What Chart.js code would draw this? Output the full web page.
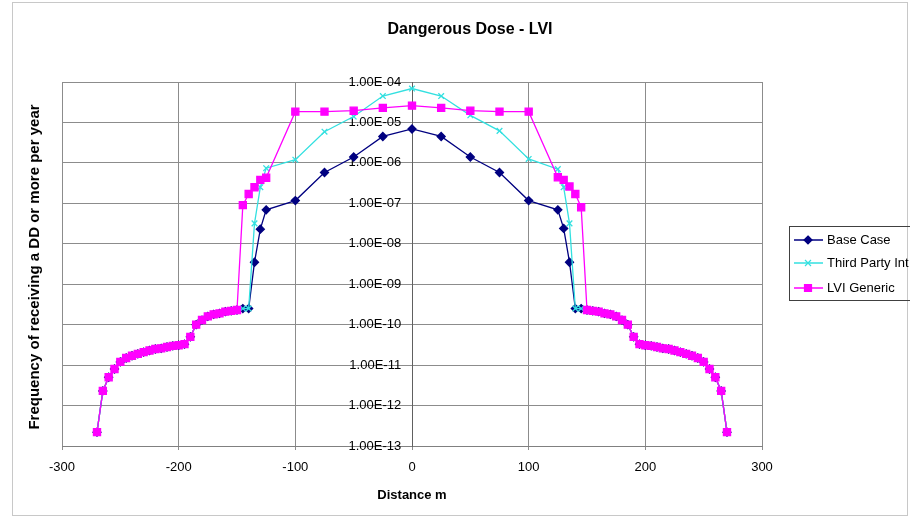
<!DOCTYPE html>
<html>
  <head>
    <title>Dangerous Dose - LVI</title>
    <meta charset="utf-8" />
    <script src="https://cdn.jsdelivr.net/npm/chart.js"></script>
    <style>
      body { margin: 0; background: #fff; }
      canvas { display: block; }
    </style>
  </head>
  <body>
    <canvas id="doseChart" width="910" height="520"></canvas>
    <script>
      // distance from the source, metres (shared by all three series)
      const distance = [
        -270, -265, -260, -255, -250, -245, -240, -235, -230, -225, -220, -215, -210,
        -205, -200, -195, -190, -185, -180, -175, -170, -165, -160, -155, -150,
        -145, -140, -135, -130, -125, -100, -75, -50, -25,
        0,
        25, 50, 75, 100, 125, 130, 135, 140, 145,
        150, 155, 160, 165, 170, 175, 180, 185, 190, 195, 200, 205, 210,
        215, 220, 225, 230, 235, 240, 245, 250, 255, 260, 265, 270
      ];

      const baseCase = [
        2.2e-13, 2.3e-12, 5e-12, 8e-12, 1.2e-11, 1.5e-11, 1.7e-11, 1.9e-11, 2.1e-11, 2.3e-11, 2.5e-11, 2.6e-11, 2.8e-11,
        3.0e-11, 3.1e-11, 3.3e-11, 5e-11, 1.0e-10, 1.3e-10, 1.6e-10, 1.8e-10, 1.9e-10, 2.1e-10, 2.2e-10, 2.3e-10,
        2.5e-10, 2.5e-10, 3.5e-9, 2.3e-8, 6.9e-8, 1.17e-7, 5.8e-7, 1.4e-6, 4.5e-6,
        6.9e-6,
        4.5e-6, 1.4e-6, 5.8e-7, 1.17e-7, 6.9e-8, 2.4e-8, 3.5e-9, 2.5e-10, 2.5e-10,
        2.3e-10, 2.2e-10, 2.1e-10, 1.9e-10, 1.8e-10, 1.6e-10, 1.3e-10, 1.0e-10, 5e-11, 3.3e-11, 3.1e-11, 3.0e-11, 2.8e-11,
        2.6e-11, 2.5e-11, 2.3e-11, 2.1e-11, 1.9e-11, 1.7e-11, 1.5e-11, 1.2e-11, 8e-12, 5e-12, 2.3e-12, 2.2e-13
      ];

      const thirdParty = [
        2.2e-13, 2.3e-12, 5e-12, 8e-12, 1.2e-11, 1.5e-11, 1.7e-11, 1.9e-11, 2.1e-11, 2.3e-11, 2.5e-11, 2.6e-11, 2.8e-11,
        3.0e-11, 3.1e-11, 3.3e-11, 5e-11, 1.0e-10, 1.3e-10, 1.6e-10, 1.8e-10, 1.9e-10, 2.1e-10, 2.2e-10, 2.3e-10,
        2.5e-10, 2.5e-10, 3.2e-8, 2.5e-7, 7.4e-7, 1.2e-6, 5.9e-6, 1.4e-5, 4.5e-5,
        6.9e-5,
        4.5e-5, 1.5e-5, 6.2e-6, 1.25e-6, 7e-7, 2.5e-7, 3.2e-8, 2.5e-10, 2.5e-10,
        2.3e-10, 2.2e-10, 2.1e-10, 1.9e-10, 1.8e-10, 1.6e-10, 1.3e-10, 1.0e-10, 5e-11, 3.3e-11, 3.1e-11, 3.0e-11, 2.8e-11,
        2.6e-11, 2.5e-11, 2.3e-11, 2.1e-11, 1.9e-11, 1.7e-11, 1.5e-11, 1.2e-11, 8e-12, 5e-12, 2.3e-12, 2.2e-13
      ];

      const lviGeneric = [
        2.2e-13, 2.3e-12, 5e-12, 8e-12, 1.2e-11, 1.5e-11, 1.7e-11, 1.9e-11, 2.1e-11, 2.3e-11, 2.5e-11, 2.6e-11, 2.8e-11,
        3.0e-11, 3.1e-11, 3.3e-11, 5e-11, 1.0e-10, 1.3e-10, 1.6e-10, 1.8e-10, 1.9e-10, 2.1e-10, 2.2e-10, 2.3e-10,
        9e-8, 1.7e-7, 2.5e-7, 3.8e-7, 4.3e-7, 1.85e-5, 1.85e-5, 1.95e-5, 2.3e-5,
        2.6e-5,
        2.3e-5, 1.95e-5, 1.85e-5, 1.85e-5, 4.4e-7, 3.8e-7, 2.6e-7, 1.7e-7, 8e-8,
        2.3e-10, 2.2e-10, 2.1e-10, 1.9e-10, 1.8e-10, 1.6e-10, 1.3e-10, 1.0e-10, 5e-11, 3.3e-11, 3.1e-11, 3.0e-11, 2.8e-11,
        2.6e-11, 2.5e-11, 2.3e-11, 2.1e-11, 1.9e-11, 1.7e-11, 1.5e-11, 1.2e-11, 8e-12, 5e-12, 2.3e-12, 2.2e-13
      ];

      const seriesNames = ["Base Case", "Third Party Int", "LVI Generic"];

      const yTickValues = [1e-13, 1e-12, 1e-11, 1e-10, 1e-9, 1e-8, 1e-7, 1e-6, 1e-5, 1e-4];
      const yTickLabels = [
        "1.00E-13", "1.00E-12", "1.00E-11", "1.00E-10", "1.00E-09",
        "1.00E-08", "1.00E-07", "1.00E-06", "1.00E-05", "1.00E-04"
      ];

      const FONT = '"Liberation Sans", Arial, sans-serif';

      function points(values) {
        return distance.map((d, i) => ({ x: d, y: values[i] }));
      }

      // title, y axis title, legend box and outer frame (Excel style)
      const decor = {
        id: "decor",
        afterDraw(chart) {
          const ctx = chart.ctx;
          ctx.save();
          ctx.strokeStyle = "#c8c8c8";
          ctx.lineWidth = 1;
          ctx.strokeRect(12.5, 2.5, 895, 513);

          ctx.fillStyle = "#000";
          ctx.textAlign = "center";
          ctx.textBaseline = "middle";
          ctx.font = "bold 16px " + FONT;
          ctx.fillText("Dangerous Dose - LVI", 470, 30);

          ctx.save();
          ctx.translate(35, 267);
          ctx.rotate(-Math.PI / 2);
          ctx.font = "bold 15px " + FONT;
          ctx.fillText("Frequency of receiving a DD or more per year", 0, 0);
          ctx.restore();

          // legend
          ctx.strokeStyle = "#404040";
          ctx.strokeRect(789.5, 226.5, 130, 74);
          ctx.font = "13px " + FONT;
          ctx.textAlign = "left";
          const rows = [240, 263, 288];
          chart.data.datasets.forEach((ds, i) => {
            const y = rows[i];
            ctx.strokeStyle = ds.borderColor;
            ctx.lineWidth = 1.5;
            ctx.beginPath();
            ctx.moveTo(794, y);
            ctx.lineTo(823, y);
            ctx.stroke();
            drawMarker(ctx, ds, 808, y);
            ctx.fillStyle = "#000";
            ctx.fillText(seriesNames[i], 827, y);
          });
          ctx.restore();
        }
      };

      function drawMarker(ctx, ds, x, y) {
        ctx.fillStyle = ds.pointBackgroundColor;
        ctx.strokeStyle = ds.pointBorderColor;
        ctx.lineWidth = 1.2;
        ctx.beginPath();
        if (ds.pointStyle === "rectRot") {
          ctx.moveTo(x, y - 4); ctx.lineTo(x + 4, y); ctx.lineTo(x, y + 4); ctx.lineTo(x - 4, y);
          ctx.closePath(); ctx.fill(); ctx.stroke();
        } else if (ds.pointStyle === "rect") {
          ctx.rect(x - 3.5, y - 3.5, 7, 7); ctx.fill(); ctx.stroke();
        } else {
          ctx.moveTo(x - 3, y - 3); ctx.lineTo(x + 3, y + 3);
          ctx.moveTo(x + 3, y - 3); ctx.lineTo(x - 3, y + 3);
          ctx.stroke();
        }
      }

      new Chart(document.getElementById("doseChart"), {
        type: "line",
        data: {
          datasets: [
            {
              label: seriesNames[0],
              data: points(baseCase),
              borderColor: "#000080",
              backgroundColor: "#000080",
              pointBackgroundColor: "#000080",
              pointBorderColor: "#000080",
              pointStyle: "rectRot",
              pointRadius: 4,
              borderWidth: 1.3,
              order: 3
            },
            {
              label: seriesNames[1],
              data: points(thirdParty),
              borderColor: "#33e0e0",
              backgroundColor: "#33e0e0",
              pointBackgroundColor: "#33e0e0",
              pointBorderColor: "#33e0e0",
              pointStyle: "crossRot",
              pointRadius: 4,
              pointBorderWidth: 1.3,
              borderWidth: 1.3,
              order: 2
            },
            {
              label: seriesNames[2],
              data: points(lviGeneric),
              borderColor: "#ff00ff",
              backgroundColor: "#ff00ff",
              pointBackgroundColor: "#ff00ff",
              pointBorderColor: "#ff00ff",
              pointStyle: "rect",
              pointRadius: 5,
              borderWidth: 1.3,
              order: 1
            }
          ]
        },
        options: {
          responsive: false,
          animation: false,
          layout: { padding: { left: 62, right: 148, top: 82, bottom: 0 } },
          plugins: {
            legend: { display: false },
            title: { display: false },
            tooltip: { enabled: false }
          },
          scales: {
            x: {
              type: "linear",
              min: -300,
              max: 300,
              afterFit(scale) { scale.height = 74; },
              ticks: {
                stepSize: 100,
                padding: 10,
                color: "#000",
                font: { family: FONT, size: 13 }
              },
              grid: { color: "#8c8c8c", tickLength: 4 },
              border: { color: "#808080" },
              title: {
                display: true,
                text: "Distance m",
                color: "#000",
                font: { family: FONT, size: 13, weight: "bold" },
                padding: { top: 0, bottom: 17 }
              }
            },
            y: {
              type: "logarithmic",
              position: { x: 0 },
              min: 1e-13,
              max: 1e-4,
              afterBuildTicks(scale) {
                scale.ticks = yTickValues.map(v => ({ value: v }));
              },
              ticks: {
                autoSkip: false,
                padding: 4,
                color: "#000",
                font: { family: FONT, size: 13 },
                callback(value) {
                  const i = yTickValues.findIndex(t => Math.abs(Math.log10(t) - Math.log10(value)) < 1e-6);
                  // trailing spaces keep the label clear of the axis line
                  return i >= 0 ? yTickLabels[i] + "   " : "";
                }
              },
              grid: { color: "#8c8c8c", tickLength: 5 },
              border: { color: "#606060" }
            }
          }
        },
        plugins: [decor]
      });
    </script>
  </body>
</html>
